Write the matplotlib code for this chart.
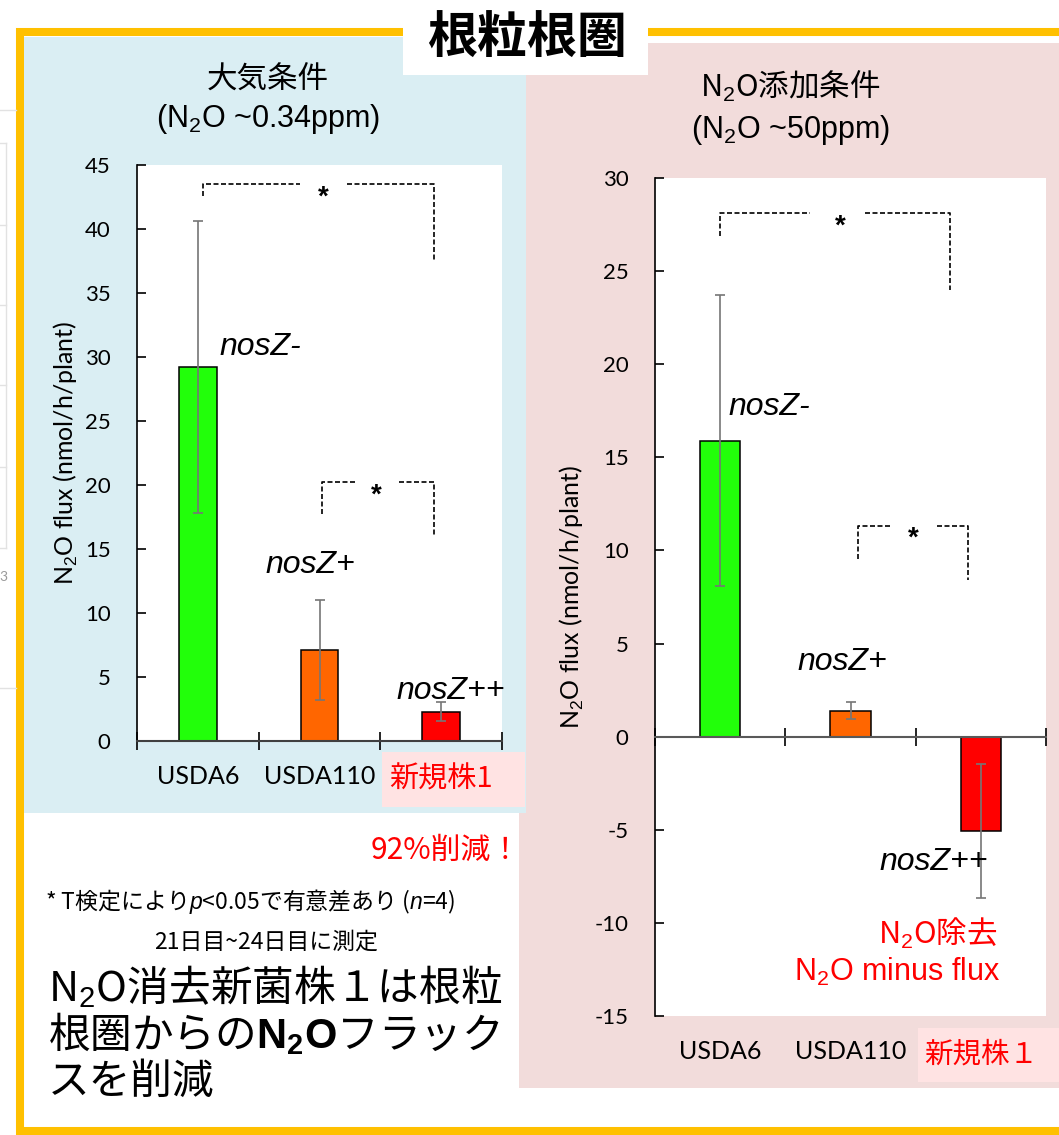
import matplotlib
matplotlib.use("Agg")
import matplotlib.pyplot as plt
from matplotlib.patches import Rectangle

plt.rcParams["font.family"] = ["Liberation Sans", "Noto Sans CJK JP", "DejaVu Sans"]
plt.rcParams["mathtext.fontset"] = "custom"
plt.rcParams["mathtext.rm"] = "Liberation Sans"
plt.rcParams["mathtext.it"] = "Liberation Sans:italic"
plt.rcParams["mathtext.bf"] = "Liberation Sans:bold"
plt.rcParams["axes.unicode_minus"] = False

# Data
strains = ["USDA6", "USDA110", "新規株1"]
strains_right = ["USDA6", "USDA110", "新規株１"]
genotypes = ["nosZ-", "nosZ+", "nosZ++"]
bar_colors = ["#22FF0A", "#FF6600", "#FF0000"]

# ambient N2O (~0.34 ppm)
flux_air = [29.2, 7.1, 2.3]
sd_air = [11.4, 3.9, 0.75]
# N2O added (~50 ppm)
flux_add = [15.9, 1.4, -5.05]
sd_add = [7.8, 0.45, 3.6]

W, H = 1059, 1135
CJK = "Noto Sans CJK JP"
RED = "#FF0000"

fig = plt.figure(figsize=(W / 100, H / 100), dpi=100)

# background layer in pixel coordinates
bg = fig.add_axes([0, 0, 1, 1])
bg.set_xlim(0, W)
bg.set_ylim(H, 0)
bg.axis("off")


def box(x0, y0, x1, y1, fc):
    bg.add_patch(Rectangle((x0, y0), x1 - x0, y1 - y0, facecolor=fc, edgecolor="none"))


def rect(x0, y0, x1, y1):
    return [x0 / W, 1 - y1 / H, (x1 - x0) / W, (y1 - y0) / H]


# faint slide remnants on the left edge
for yy in [110, 688]:
    bg.plot([0, 16], [yy, yy], color="#E2E2E2", lw=1)
for yy in [143, 225, 305, 385, 467, 548]:
    bg.plot([0, 6], [yy, yy], color="#E2E2E2", lw=1)
bg.plot([6, 6], [143, 548], color="#E2E2E2", lw=1)
bg.text(3, 577, "3", color="#9A9A9A", fontsize=10, ha="center", va="center", family="Lato")

bg.add_patch(Rectangle((20, 32), 1050, 1099, facecolor="white", edgecolor="#FFC000", linewidth=5.8))
box(519, 43, 1059, 1088, "#F2DCDB")
box(24, 37, 526, 813, "#DAEEF3")
box(403, 0, 648, 75, "white")
box(382, 752, 525, 807, "#FFE3E3")
box(918, 1028, 1059, 1082, "#FFE3E3")

bg.text(527, 39, "根粒根圏", family=CJK, fontweight="bold", fontsize=36, ha="center", va="center")

bg.text(268, 80, "大気条件", family=CJK, fontsize=22, ha="center", va="center")
bg.text(268, 119, "(N$_2$O ~0.34ppm)", fontsize=22, ha="center", va="center")
bg.text(790, 86, "N$_2$O添加条件", family=CJK, fontsize=22, ha="center", va="center")
bg.text(790, 130, "(N$_2$O ~50ppm)", fontsize=22, ha="center", va="center")

bg.text(521, 850, "92%削減！", family=CJK, fontsize=21.5, color=RED, ha="right", va="center")
bg.text(45, 902, "* T検定により$p$<0.05で有意差あり ($n$=4)", family=CJK, fontsize=16.5,
        ha="left", va="center")
bg.text(266, 942, "21日目~24日目に測定", family=CJK, fontsize=16.5, ha="center", va="center")
bg.text(48, 987, "N$_2$O消去新菌株１は根粒", family=CJK, fontsize=30, ha="left", va="center")
bg.text(48, 1034, "根圏からの$\\mathbf{N_2O}$フラック", family=CJK, fontsize=30, ha="left", va="center")
bg.text(48, 1082, "スを削減", family=CJK, fontsize=30, ha="left", va="center")


def bracket(ax, xl, xr, y, yl, yr, g0, g1, xs):
    kw = dict(color="black", lw=1.2, ls=(0, (3, 1.5)), zorder=4)
    ax.plot([xl, xl, g0], [yl, y, y], **kw)
    ax.plot([g1, xr, xr], [y, y, yr], **kw)
    ax.text(xs, y, "*", fontsize=20, fontweight="bold", ha="center", va="top", zorder=4)


def draw_chart(ax, vals, errs, labels):
    x = range(len(vals))
    ax.set_facecolor("white")
    ax.bar(x, vals, width=0.31, color=bar_colors, edgecolor="black", linewidth=1.1, zorder=2)
    ax.errorbar(x, vals, yerr=errs, fmt="none", ecolor="#767676", elinewidth=1.2,
                capsize=3.5, capthick=1.2, zorder=3)
    ax.set_xlim(-0.5, 2.5)
    for s in ["top", "right"]:
        ax.spines[s].set_visible(False)
    ax.spines["left"].set_linewidth(1.2)
    ax.spines["left"].set_color("black")
    ax.spines["bottom"].set_linewidth(1.5)
    ax.tick_params(axis="y", direction="in", length=6.5, width=1.2, labelsize=16,
                   pad=19, labelfontfamily="Lato")
    ax.set_xticks([-0.5, 0.5, 1.5, 2.5])
    ax.tick_params(axis="x", which="major", direction="inout", length=13, width=1.2,
                   labelbottom=False)
    ax.set_ylabel("N$_2$O flux (nmol/h/plant)", family="Lato", fontsize=18)


def style_labels(ticklabels, size):
    for t in ticklabels:
        if t.get_text().startswith("新規"):
            t.set_color(RED)
            t.set_fontfamily(CJK)
            t.set_fontsize(size)


# left chart: ambient
ax1 = fig.add_axes(rect(137, 165, 502, 741))
draw_chart(ax1, flux_air, sd_air, strains)
ax1.set_ylim(0, 45)
ax1.set_yticks(range(0, 46, 5))
ax1.spines["bottom"].set_color("#404040")
ax1.set_xticks([0, 1, 2], strains, minor=True)
ax1.tick_params(axis="x", which="minor", length=0, pad=17, labelsize=18, labelfontfamily="Lato")
style_labels(ax1.get_xticklabels(minor=True), 21)
ax1.yaxis.set_label_coords(-0.195, 0.5)
ax1.yaxis.label.set_va("center")

bracket(ax1, 0.044, 1.94, 43.5, 42.6, 37.4, 0.836, 1.23, 1.033)
bracket(ax1, 1.017, 1.94, 20.2, 17.7, 16.0, 1.30, 1.65, 1.47)
ax1.text(0.18, 30.8, genotypes[0], style="italic", fontsize=23, va="center")
ax1.text(0.56, 13.75, genotypes[1], style="italic", fontsize=23, va="center")
ax1.text(1.63, 3.9, genotypes[2], style="italic", fontsize=23, va="center", zorder=4)

# right chart: N2O added
ax2 = fig.add_axes(rect(655, 178, 1046, 1016))
draw_chart(ax2, flux_add, sd_add, strains_right)
ax2.set_ylim(-15, 30)
ax2.set_yticks(range(-15, 31, 5))
ax2.spines["bottom"].set_position(("data", 0))
ax2.spines["bottom"].set_color("#595959")
sec = ax2.secondary_xaxis("bottom")
sec.set_xticks([0, 1, 2], strains_right)
sec.tick_params(length=0, pad=17, labelsize=18, labelfontfamily="Lato")
sec.spines["bottom"].set_visible(False)
style_labels(sec.get_xticklabels(), 20.5)
ax2.yaxis.set_label_coords(-0.213, 0.5)
ax2.yaxis.label.set_va("center")

bracket(ax2, 0.0, 1.76, 28.1, 26.9, 24.0, 0.69, 1.11, 0.92)
bracket(ax2, 1.06, 1.90, 11.33, 9.56, 8.43, 1.30, 1.66, 1.48)
ax2.text(0.06, 17.7, genotypes[0], style="italic", fontsize=23, va="center")
ax2.text(0.59, 4.0, genotypes[1], style="italic", fontsize=23, va="center")
ax2.text(1.22, -6.75, genotypes[2], style="italic", fontsize=23, va="center", zorder=4)
ax2.text(2.13, -10.55, "N$_2$O除去", family=CJK, color=RED, fontsize=22, ha="right", va="center")
ax2.text(2.15, -12.65, "N$_2$O minus flux", color=RED, fontsize=22, ha="right", va="center")

fig.savefig("out.png", dpi=100)
